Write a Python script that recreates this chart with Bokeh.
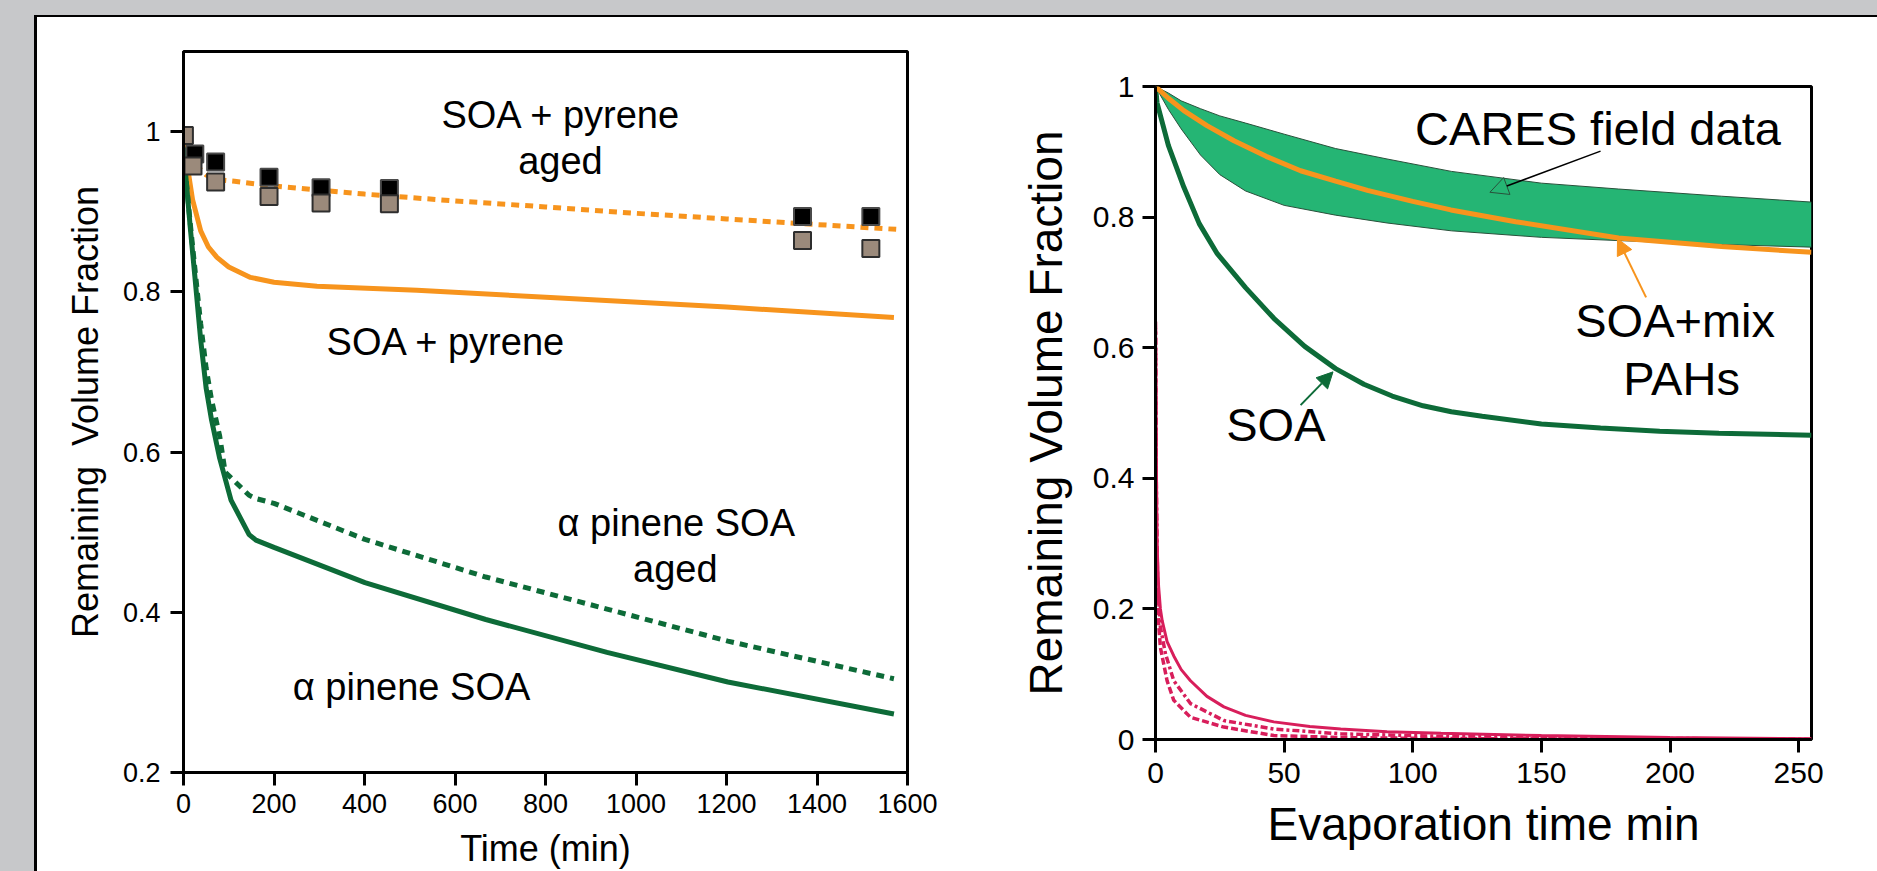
from bokeh.plotting import figure
from bokeh.layouts import row, column
from bokeh.models import Range1d, FixedTicker, Label, Arrow, NormalHead, Plot
from bokeh.embed import file_html
from bokeh.resources import INLINE

FONT = "Liberation Sans"
PANEL_GRAY = "#c7c8ca"
ORANGE = "#f7941d"
DARK_GREEN = "#0d6b38"
BAND_GREEN = "#25b574"
BAND_EDGE = "#29513b"
PINK = "#d81e5b"
SQ_BROWN = "#9b8a7b"

# ---------------- left panel: remaining volume fraction vs time (min) ----------------
pyr_aged_t = [0, 20, 50, 75, 113, 200, 400, 588, 800, 1000, 1200, 1400, 1575]
pyr_aged_v = [0.99, 0.962, 0.946, 0.940, 0.938, 0.932, 0.922, 0.914, 0.906, 0.898, 0.891, 0.884, 0.878]

pyr_t = [0, 8, 20, 38, 55, 74, 100, 148, 200, 295, 516, 811, 1200, 1570]
pyr_v = [0.99, 0.959, 0.915, 0.876, 0.856, 0.843, 0.831, 0.818, 0.812, 0.807, 0.802, 0.793, 0.781, 0.768]

pin_t = [0, 5, 15, 25, 38, 50, 62, 80, 105, 145, 160, 200, 401, 668, 936, 1203, 1570]
pin_v = [0.99, 0.945, 0.88, 0.82, 0.74, 0.68, 0.64, 0.592, 0.54, 0.497, 0.49, 0.481, 0.437, 0.391, 0.350, 0.313, 0.273]

pin_aged_t = [0, 5, 15, 25, 38, 50, 62, 80, 92, 145, 160, 200, 401, 668, 936, 1203, 1570]
pin_aged_v = [0.99, 0.945, 0.885, 0.83, 0.76, 0.705, 0.665, 0.62, 0.575, 0.546, 0.542, 0.536, 0.491, 0.444, 0.404, 0.364, 0.317]

meas_black_t = [25, 71, 189, 304, 455, 1368, 1519]
meas_black_v = [0.972, 0.962, 0.943, 0.930, 0.929, 0.894, 0.894]
meas_brown_t = [2, 21, 71, 189, 304, 455, 1368, 1519]
meas_brown_v = [0.995, 0.957, 0.937, 0.919, 0.911, 0.910, 0.864, 0.854]

left_xticks = [0, 200, 400, 600, 800, 1000, 1200, 1400, 1600]
left_yticks = [0.2, 0.4, 0.6, 0.8, 1.0]

# ---------------- right panel: remaining volume fraction vs evaporation time ----------------
soa_t = [0, 0.6, 5, 11, 17, 24, 35, 46, 58, 70, 81, 92, 104, 115, 127, 150, 173, 196, 219, 255]
soa_v = [1.0, 0.975, 0.91, 0.846, 0.79, 0.744, 0.692, 0.645, 0.602, 0.568, 0.544, 0.526, 0.511, 0.502, 0.495, 0.483, 0.477, 0.472, 0.469, 0.466]

mix_t = [0, 5, 11, 20, 30.5, 43, 56.4, 70, 82.4, 100, 114.8, 140, 180, 220, 255]
mix_v = [1.0, 0.982, 0.963, 0.94, 0.917, 0.893, 0.871, 0.855, 0.841, 0.824, 0.811, 0.793, 0.768, 0.755, 0.746]

cares_t = [0, 5, 10, 17.5, 25, 35, 50, 70, 90, 115, 150, 180, 220, 255]
cares_hi = [1.0, 0.99, 0.978, 0.966, 0.955, 0.944, 0.927, 0.905, 0.889, 0.870, 0.852, 0.843, 0.832, 0.823]
cares_lo = [1.0, 0.965, 0.935, 0.895, 0.865, 0.84, 0.818, 0.803, 0.791, 0.779, 0.769, 0.764, 0.758, 0.754]

pah_t = [0, 0.3, 0.6, 1.2, 1.9, 2.6, 4.5, 7.1, 10, 13.6, 20, 26.6, 35, 46, 60, 72, 90, 111, 150, 200, 255]
pah_v = [0.65, 0.45, 0.30, 0.235, 0.2, 0.182, 0.15, 0.128, 0.107, 0.09, 0.066, 0.05, 0.037, 0.027, 0.02, 0.016, 0.012, 0.0095, 0.006, 0.003, 0.001]
pah_b_t = [0, 0.3, 0.8, 1.9, 3.9, 7.1, 13.6, 26.6, 46, 72, 110, 150, 200, 255]
pah_b_v = [0.64, 0.4, 0.24, 0.172, 0.131, 0.09, 0.055, 0.029, 0.016, 0.0087, 0.005, 0.003, 0.0015, 0.0005]
pah_c_t = [0, 0.3, 0.8, 1.9, 4.5, 7.1, 13.6, 26.6, 46, 72, 110, 150, 200, 255]
pah_c_v = [0.63, 0.35, 0.2, 0.141, 0.09, 0.06, 0.034, 0.019, 0.006, 0.003, 0.0015, 0.001, 0.0005, 0.0]

right_xticks = [0, 50, 100, 150, 200, 250]
right_yticks = [0, 0.2, 0.4, 0.6, 0.8, 1.0]

W, H = 1877, 871
TOP_GRAY, TOP_RULE = 15, 2
LEFT_GRAY, LEFT_RULE = 34, 3
LW = 975
RW = W - LW


def panel_background(with_left_edge):
    # gray surround and black rule painted behind the (transparent) plot border
    g, k = PANEL_GRAY, "black"
    layers = []
    if with_left_edge:
        layers.append(f"linear-gradient(to right, {g} 0px, {g} {LEFT_GRAY}px, transparent {LEFT_GRAY}px)")
    layers.append(f"linear-gradient(to bottom, {g} 0px, {g} {TOP_GRAY}px, transparent {TOP_GRAY}px)")
    if with_left_edge:
        layers.append(f"linear-gradient(to right, transparent {LEFT_GRAY}px, {k} {LEFT_GRAY}px, "
                      f"{k} {LEFT_GRAY + LEFT_RULE}px, transparent {LEFT_GRAY + LEFT_RULE}px)")
    layers.append(f"linear-gradient(to bottom, transparent {TOP_GRAY}px, {k} {TOP_GRAY}px, "
                  f"{k} {TOP_GRAY + TOP_RULE}px, transparent {TOP_GRAY + TOP_RULE}px)")
    return {"background-image": ", ".join(layers), "background-color": "white",
            "background-repeat": "no-repeat"}


def style(p, tick_px, label_px, label_standoff, tick_standoff):
    p.grid.visible = False
    p.outline_line_color = "black"
    p.outline_line_width = 3
    p.outline_line_alpha = 1.0
    p.background_fill_color = "white"
    p.border_fill_alpha = 0.0
    for ax in p.axis:
        ax.axis_line_width = 3
        ax.axis_line_color = "black"
        ax.major_tick_line_width = 3
        ax.major_tick_line_color = "black"
        ax.major_tick_out = 13
        ax.major_tick_in = 0
        ax.minor_tick_line_color = None
        ax.major_label_text_font = FONT
        ax.major_label_text_font_size = f"{tick_px}px"
        ax.major_label_text_color = "black"
        ax.major_label_standoff = tick_standoff
        ax.axis_label_text_font = FONT
        ax.axis_label_text_font_size = f"{label_px}px"
        ax.axis_label_text_font_style = "normal"
        ax.axis_label_text_color = "black"
        ax.axis_label_standoff = label_standoff


def text(p, x, y, s, px):
    p.add_layout(Label(x=x, y=y, text=s, text_font=FONT, text_font_size=f"{px}px",
                       text_align="center", text_baseline="alphabetic", text_color="black"))


# ---- left figure ----
left = figure(width=LW, height=H, output_backend="svg", toolbar_location=None,
              x_range=Range1d(0, 1600), y_range=Range1d(0.2, 1.1),
              min_border_left=183, min_border_right=LW - 907,
              min_border_top=51, min_border_bottom=H - 774,
              x_axis_label="Time (min)", y_axis_label="Remaining\u00a0 Volume Fraction",
              styles=panel_background(True))
style(left, 27, 36, 12, 8)
left.xaxis.ticker = FixedTicker(ticks=left_xticks)
left.yaxis.ticker = FixedTicker(ticks=left_yticks)
left.yaxis.major_label_overrides = {1: "1"}
left.yaxis.axis_label_standoff = 14
left.yaxis.major_label_standoff = 10

left.line(pyr_t, pyr_v, line_color=ORANGE, line_width=5)
left.line(pin_t, pin_v, line_color=DARK_GREEN, line_width=5)
left.line(pin_aged_t, pin_aged_v, line_color=DARK_GREEN, line_width=5, line_dash="8 6")
left.line(pyr_aged_t, pyr_aged_v, line_color=ORANGE, line_width=5, line_dash="8 6")
left.scatter(meas_black_t, meas_black_v, marker="square", size=17,
             fill_color="black", line_color="#4a4a4a", line_width=2)
left.scatter(meas_brown_t, meas_brown_v, marker="square", size=17,
             fill_color=SQ_BROWN, line_color="#2e2e2e", line_width=2)

text(left, 835, 1.021, "SOA + pyrene", 38)
text(left, 833, 0.963, "aged", 38)
text(left, 581, 0.737, "SOA + pyrene", 38)
text(left, 1089, 0.512, "\u03b1 pinene SOA", 38)
text(left, 1087, 0.454, "aged", 38)
text(left, 504, 0.307, "\u03b1 pinene SOA", 38)

# ---- right figure ----
right = figure(width=RW, height=H, output_backend="svg", toolbar_location=None,
               x_range=Range1d(0, 255), y_range=Range1d(0, 1),
               min_border_left=1155 - LW, min_border_right=W - 1811,
               min_border_top=86, min_border_bottom=H - 739,
               x_axis_label="Evaporation time min", y_axis_label="Remaining Volume Fraction",
               styles=panel_background(False))
style(right, 30, 46, 12, 10)
right.xaxis.ticker = FixedTicker(ticks=right_xticks)
right.yaxis.ticker = FixedTicker(ticks=right_yticks)
right.yaxis.major_label_overrides = {0: "0", 1: "1"}
right.yaxis.axis_label_standoff = 18
right.yaxis.major_label_standoff = 8

right.varea(x=cares_t, y1=cares_lo, y2=cares_hi, fill_color=BAND_GREEN)
right.line(cares_t, cares_hi, line_color=BAND_EDGE, line_width=1)
right.line(cares_t, cares_lo, line_color=BAND_EDGE, line_width=1)
right.line(soa_t, soa_v, line_color=DARK_GREEN, line_width=5)
right.line(mix_t, mix_v, line_color=ORANGE, line_width=5)
right.line(pah_c_t, pah_c_v, line_color=PINK, line_width=3.5, line_dash="7 3")
right.line(pah_b_t, pah_b_v, line_color=PINK, line_width=3.5, line_dash="7 3 3 3")
right.line(pah_t, pah_v, line_color=PINK, line_width=3)

right.add_layout(Arrow(end=NormalHead(size=18, fill_color=BAND_GREEN, line_color=BAND_EDGE, line_width=1),
                       x_start=173, y_start=0.901, x_end=130, y_end=0.838,
                       line_color="black", line_width=1.5))
right.add_layout(Arrow(end=NormalHead(size=16, fill_color=ORANGE, line_color=ORANGE, line_width=1),
                       x_start=190.7, y_start=0.677, x_end=179.6, y_end=0.767,
                       line_color=ORANGE, line_width=2))
right.add_layout(Arrow(end=NormalHead(size=16, fill_color=DARK_GREEN, line_color=DARK_GREEN, line_width=1),
                       x_start=56.4, y_start=0.512, x_end=69, y_end=0.563,
                       line_color=DARK_GREEN, line_width=2))

text(right, 172, 0.9355, "CARES field data", 47)
text(right, 202, 0.6415, "SOA+mix", 47)
text(right, 204.5, 0.5535, "PAHs", 47)
text(right, 46.8, 0.4825, "SOA", 47)

# the two panels keep their own frame extents
if "frame_align" in Plot.properties():
    left.frame_align = False
    right.frame_align = False
    page = row(left, right, spacing=0)
else:
    page = row(column(left), column(right), spacing=0)

open("out.html", "w").write(file_html(page, INLINE))
